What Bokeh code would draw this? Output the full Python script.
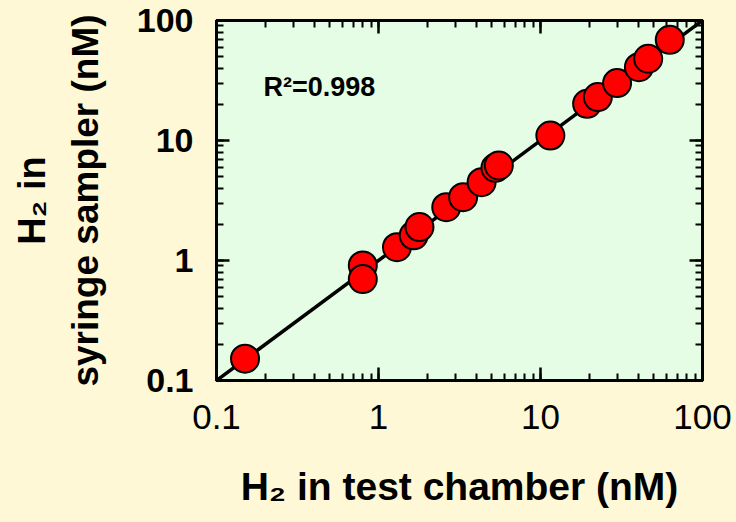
from bokeh.plotting import figure
from bokeh.models import LogAxis, Label, Range1d, Title
from bokeh.embed import file_html
from bokeh.resources import INLINE

# Data (nM)
chamber = [0.15, 0.80, 0.80, 1.30, 1.65, 1.79, 2.62, 3.33, 4.33, 5.27, 5.53, 11.5, 19.4, 22.6, 29.7, 40.5, 46.2, 62.8]
sampler = [0.152, 0.91, 0.70, 1.29, 1.62, 1.90, 2.78, 3.37, 4.49, 5.92, 6.19, 11.0, 20.2, 23.0, 30.1, 40.8, 48.0, 69.0]
fit_x = [0.1, 100]
fit_y = [0.1, 100]
tick_labels = {0.1: "0.1", 1: "1", 10: "10", 100: "100"}
r2_text = "R\u00b2=0.998"
x_title = "H\u2082 in test chamber (nM)"
y_title_1 = "H\u2082 in"
y_title_2 = "syringe sampler (nM)"

PAGE_BG = "#FFF8D6"
PLOT_BG = "#E4FDE4"
FONT = "Liberation Sans"

p = figure(width=736, height=522, x_axis_type="log", y_axis_type="log",
           x_range=Range1d(0.1, 100), y_range=Range1d(0.1, 100),
           output_backend="svg", toolbar_location=None,
           min_border_left=216, min_border_right=34, min_border_top=20, min_border_bottom=142)
p.background_fill_color = PLOT_BG
p.border_fill_color = PAGE_BG
p.outline_line_color = "black"
p.outline_line_width = 3
p.xgrid.visible = False
p.ygrid.visible = False

def style(ax):
    ax.axis_line_width = 3
    ax.major_tick_in = 13
    ax.major_tick_out = 0
    ax.minor_tick_in = 7
    ax.minor_tick_out = 0
    ax.major_tick_line_width = 2.5
    ax.minor_tick_line_width = 2
    ax.ticker.num_minor_ticks = 10

xa = p.xaxis[0]
ya = p.yaxis[0]
style(xa)
style(ya)
xa.major_label_overrides = tick_labels
ya.major_label_overrides = tick_labels
xa.major_label_text_font = FONT
xa.major_label_text_font_size = "35px"
xa.major_label_text_font_style = "normal"
xa.major_label_text_color = "black"
xa.major_label_standoff = 24
ya.major_label_text_font = FONT
ya.major_label_text_font_size = "34px"
ya.major_label_text_font_style = "bold"
ya.major_label_text_color = "black"
ya.major_label_standoff = 23

xa.axis_label = x_title
xa.axis_label_text_font = FONT
xa.axis_label_text_font_size = "39px"
xa.axis_label_text_font_style = "bold"
xa.axis_label_text_color = "black"
xa.axis_label_standoff = 33

ya.axis_label = y_title_2
ya.axis_label_text_font = FONT
ya.axis_label_text_font_size = "37px"
ya.axis_label_text_font_style = "bold"
ya.axis_label_text_color = "black"
ya.axis_label_standoff = 28

# mirrored axes on top and right (ticks only)
for loc in ("above", "right"):
    ax = LogAxis()
    style(ax)
    ax.major_label_text_font_size = "1px"
    ax.major_label_text_alpha = 0
    ax.major_label_standoff = 0
    p.add_layout(ax, loc)

# first line of the y title
t1 = Title(text=y_title_1, align="center", text_font=FONT, text_font_size="38px",
           text_font_style="bold", text_color="black", standoff=17)
p.add_layout(t1, "left")

p.line(fit_x, fit_y, line_color="black", line_width=3.5)
p.scatter(chamber, sampler, size=28, fill_color="#FF0000", line_color="black", line_width=2)

p.add_layout(Label(x=0.195, y=27.7, text=r2_text, text_font=FONT, text_font_size="27px",
                   text_font_style="bold", text_color="black", text_baseline="alphabetic"))

html = file_html(p, INLINE)
html = html.replace("<body>", '<body style="background-color:%s">' % PAGE_BG)
open("out.html", "w").write(html)
